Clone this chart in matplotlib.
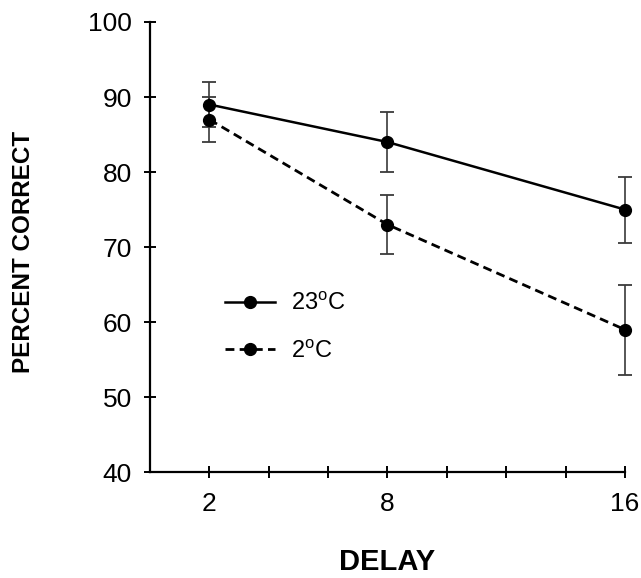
import matplotlib
matplotlib.use("Agg")
import matplotlib.pyplot as plt

plt.rcParams['font.family'] = ['Liberation Sans', 'DejaVu Sans']

delay = [2, 8, 16]
warm = [89, 84, 75]       # 23 C
warm_err = [3, 4, 4.4]
cold = [87, 73, 59]       # 2 C
cold_err = [3, 3.9, 6]
labels = ['23$^\\mathregular{o}$C', '2$^\\mathregular{o}$C']

fig = plt.figure(figsize=(6.41, 5.78), dpi=100)
ax = fig.add_axes([0.234, 0.183, 0.741, 0.779])

c1 = ax.errorbar(delay, warm, yerr=warm_err, color='black', lw=1.8, marker='o', ms=8.5,
                 ecolor='#3a3a3a', elinewidth=1.2, capsize=5, capthick=1.3)
c2 = ax.errorbar(delay, cold, yerr=cold_err, color='black', lw=2.0, ls=(0, (3.2, 1.9)),
                 marker='o', ms=8.5, ecolor='#3a3a3a', elinewidth=1.2, capsize=5, capthick=1.3)
for c in (c1, c2):
    for a in c.get_children():
        a.set_clip_on(False)

ax.set_xlim(0, 16)
ax.set_ylim(40, 100)
ax.set_xticks(range(2, 17, 2))
ax.set_xticklabels(['2', '', '', '8', '', '', '', '16'])
ax.set_yticks(range(40, 101, 10))

for s in ['top', 'right']:
    ax.spines[s].set_visible(False)
for s in ['left', 'bottom']:
    ax.spines[s].set_linewidth(1.6)
ax.tick_params(direction='inout', length=8, width=1.4, labelsize=19)
ax.tick_params(axis='y', pad=9)
ax.tick_params(axis='x', pad=10)

ax.set_xlabel('DELAY', fontsize=21, fontweight='bold')
ax.set_ylabel('PERCENT CORRECT', fontsize=17.5, fontweight='bold')
ax.xaxis.set_label_coords(0.5, -0.168)
ax.yaxis.set_label_coords(-0.242, 0.49)

ax.legend(handles=[c1[0], c2[0]], labels=labels, loc='center left',
          bbox_to_anchor=(0.158, 0.322), frameon=False, handlelength=2.1,
          labelspacing=1.05, fontsize=17, borderpad=0, borderaxespad=0,
          handletextpad=0.7)

fig.savefig('out.png', dpi=100)
